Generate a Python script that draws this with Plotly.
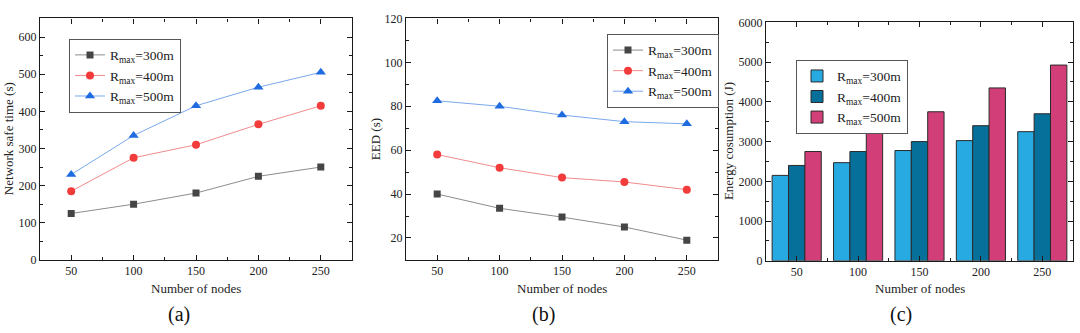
import plotly.graph_objects as go

nodes = [50, 100, 150, 200, 250]
series_names = ["R<sub>max</sub>=300m", "R<sub>max</sub>=400m", "R<sub>max</sub>=500m"]

safe_300 = [125, 150, 180, 225, 250]
safe_400 = [185, 275, 310, 365, 415]
safe_500 = [230, 335, 415, 465, 505]

eed_300 = [40, 33.5, 29.5, 25, 19]
eed_400 = [58, 52, 47.5, 45.5, 42]
eed_500 = [82.5, 80, 76, 73, 72]

energy_300 = [2150, 2470, 2775, 3025, 3250]
energy_400 = [2400, 2750, 3000, 3400, 3700]
energy_500 = [2750, 3300, 3750, 4350, 4925]

FONT = "Liberation Serif"
line_colors = ["#8c8c8c", "#f28b8b", "#7aa8ec"]
marker_colors = ["#454545", "#f23c3c", "#1f6be0"]
symbols = ["square", "circle", "triangle-up"]
msizes = [7, 8, 9]
bar_colors = ["#27aae1", "#07709a", "#d23e78"]

fig = go.Figure()

def add_lines(ys, xa, ya, legend):
    for i, y in enumerate(ys):
        fig.add_trace(go.Scatter(
            x=nodes, y=y, mode="lines+markers", name=series_names[i],
            line=dict(color=line_colors[i], width=1),
            marker=dict(symbol=symbols[i], size=msizes[i], color=marker_colors[i]),
            xaxis=xa, yaxis=ya, legend=legend))

add_lines([safe_300, safe_400, safe_500], "x", "y", "legend")
add_lines([eed_300, eed_400, eed_500], "x2", "y2", "legend2")

for i, y in enumerate([energy_300, energy_400, energy_500]):
    fig.add_trace(go.Bar(
        x=nodes, y=y, name=series_names[i],
        marker=dict(color=bar_colors[i], line=dict(color="#2a2a2a", width=1)),
        xaxis="x3", yaxis="y3", legend="legend3"))

H = 333.0
W = 1080.0

def axis_common():
    return dict(
        showline=True, linecolor="#1a1a1a", linewidth=1.3, mirror="ticks",
        ticks="inside", ticklen=5, tickwidth=1, tickcolor="#1a1a1a",
        minor=dict(ticks="inside", ticklen=3, tickwidth=1, tickcolor="#1a1a1a"),
        showgrid=False, zeroline=False,
        tickfont=dict(family=FONT, size=12, color="#222"),
    )

xa = dict(axis_common(), range=[25, 275], tickvals=nodes,
          minor=dict(ticks="inside", ticklen=3, tickwidth=1, tickcolor="#1a1a1a", tickvals=[75, 125, 175, 225]))

fig.update_layout(
    width=1080, height=333,
    margin=dict(l=0, r=0, t=0, b=0),
    paper_bgcolor="white", plot_bgcolor="white",
    font=dict(family=FONT, size=13, color="#222"),
    showlegend=True,
    barmode="group", bargap=0.2, bargroupgap=0,
    xaxis=dict(xa, domain=[40 / W, 352 / W], anchor="y"),
    yaxis=dict(axis_common(), domain=[(H - 264) / H, (H - 12) / H], range=[0, 650],
               tick0=0, dtick=100, anchor="x",
               minor=dict(ticks="inside", ticklen=3, tickwidth=1, tickcolor="#1a1a1a", dtick=50)),
    xaxis2=dict(xa, domain=[406 / W, 718 / W], anchor="y2"),
    yaxis2=dict(axis_common(), domain=[(H - 264) / H, (H - 12) / H], range=[10, 120],
                tick0=0, dtick=20, anchor="x2",
                minor=dict(ticks="inside", ticklen=3, tickwidth=1, tickcolor="#1a1a1a", dtick=10)),
    xaxis3=dict(xa, domain=[766 / W, 1073 / W], anchor="y3"),
    yaxis3=dict(axis_common(), domain=[(H - 265) / H, (H - 16) / H], range=[0, 6000],
                tick0=0, dtick=1000, anchor="x3",
                minor=dict(ticks="inside", ticklen=3, tickwidth=1, tickcolor="#1a1a1a", dtick=500)),
)

leg_common = dict(bgcolor="white", bordercolor="#555", borderwidth=1,
                  font=dict(family=FONT, size=13.5, color="#222"),
                  xanchor="left", yanchor="top", tracegroupgap=0, itemwidth=30)
fig.update_layout(
    legend=dict(leg_common, x=69 / W, y=(H - 33) / H),
    legend2=dict(leg_common, x=607 / W, y=(H - 28) / H),
    legend3=dict(leg_common, x=796 / W, y=(H - 55) / H),
)

annots = [
    dict(text="Network safe time (s)", x=8 / W, y=(H - 138) / H, textangle=-90),
    dict(text="EED (s)", x=375 / W, y=(H - 138) / H, textangle=-90),
    dict(text="Energy cosumption (J)", x=728 / W, y=(H - 140) / H, textangle=-90),
    dict(text="Number of nodes", x=196 / W, y=(H - 294) / H),
    dict(text="Number of nodes", x=562 / W, y=(H - 294) / H),
    dict(text="Number of nodes", x=920 / W, y=(H - 294) / H),
]
for a in annots:
    fig.add_annotation(xref="paper", yref="paper", showarrow=False,
                       xanchor="center", yanchor="middle",
                       font=dict(family=FONT, size=13, color="#222"), **a)

for lbl, cx in [("(a)", 179), ("(b)", 543), ("(c)", 901)]:
    fig.add_annotation(xref="paper", yref="paper", showarrow=False,
                       x=cx / W, y=(H - 321) / H, xanchor="center", yanchor="middle",
                       text=lbl, font=dict(family=FONT, size=20, color="#111"))

fig.write_html("out.html")
